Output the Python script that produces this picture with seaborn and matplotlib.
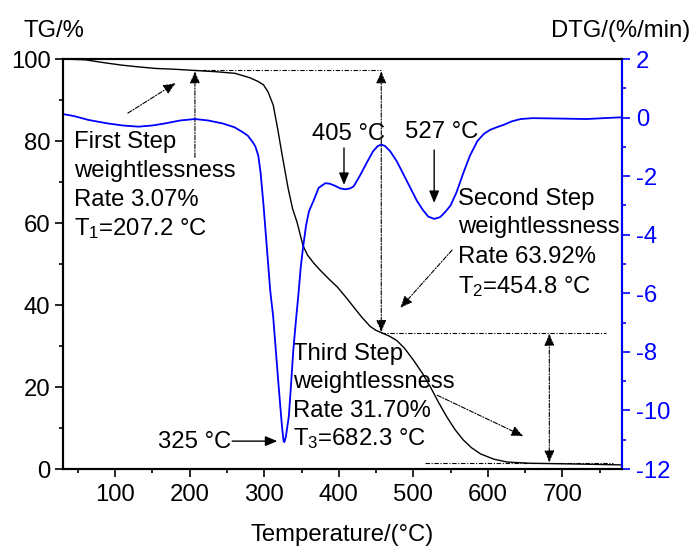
import matplotlib
matplotlib.use("Agg")
import matplotlib.pyplot as plt
import seaborn as sns
from matplotlib.ticker import MultipleLocator

# ---------------- data ----------------
tg_temp = [30, 60, 85, 109, 130, 154, 180, 207, 235, 261, 281, 292, 299, 305, 312,
           318, 324, 332, 338, 344, 352, 358, 366, 375, 387, 398, 410, 420, 431,
           442, 450, 458, 469, 478, 488, 500, 512, 523, 534, 545, 556, 567, 578,
           590, 608, 626, 657, 690, 724, 750, 780]
tg_val = [100.0, 99.8, 99.1, 98.5, 98.1, 97.7, 97.5, 97.2, 96.9, 96.5, 95.4, 94.5,
          93.7, 92.0, 88.8, 83.0, 76.6, 68.5, 63.5, 60.2, 54.5, 52.2, 50.3, 48.5,
          46.3, 44.4, 41.8, 39.5, 37.0, 34.8, 33.8, 33.2, 32.3, 31.3, 29.5, 26.6,
          23.4, 20.0, 16.2, 12.7, 9.6, 7.1, 5.2, 3.7, 2.4, 1.7, 1.4, 1.3, 1.2,
          1.1, 1.0]

dtg_temp = [30, 45, 64, 90, 110, 131, 150, 167, 187, 207, 225, 244, 260, 270, 278,
            284, 288, 292, 295, 299, 304, 308, 312, 316, 319, 322, 324, 326, 327,
            329, 333, 336, 339, 343, 346, 349, 352, 356, 360, 366, 373, 382, 388,
            395, 402, 409, 415, 420, 428, 438, 446, 452, 457, 462, 469, 478, 487,
            496, 505, 513, 520, 528, 536, 543, 550, 558, 567, 576, 586, 595, 603,
            612, 621, 632, 644, 660, 688, 710, 733, 755, 780]
dtg_val = [0.12, 0.05, -0.08, -0.2, -0.27, -0.31, -0.27, -0.2, -0.1, -0.05, -0.1,
           -0.2, -0.33, -0.48, -0.62, -0.82, -0.98, -1.3, -1.86, -2.98, -4.6, -5.9,
           -6.8, -8.1, -9.07, -10.0, -10.6, -11.05, -11.08, -10.9, -10.2, -9.1,
           -7.94, -6.8, -6.0, -5.1, -4.45, -3.7, -3.2, -2.85, -2.4, -2.24, -2.26,
           -2.33, -2.42, -2.45, -2.42, -2.35, -2.0, -1.52, -1.15, -0.98, -0.92,
           -0.97, -1.15, -1.5, -1.95, -2.4, -2.85, -3.16, -3.38, -3.46, -3.4,
           -3.22, -3.0, -2.55, -1.9, -1.3, -0.8, -0.55, -0.42, -0.33, -0.25,
           -0.13, -0.05, -0.02, -0.03, -0.04, -0.05, -0.02, 0.01]

x_ticks = [100, 200, 300, 400, 500, 600, 700]
tg_ticks = [0, 20, 40, 60, 80, 100]
dtg_ticks = [-12, -10, -8, -6, -4, -2, 0, 2]

step1_lines = ["First Step", "weightlessness", "Rate 3.07%", r"T$_1$=207.2 °C"]
step2_lines = ["Second Step", "weightlessness", "Rate 63.92%", r"T$_2$=454.8 °C"]
step3_lines = ["Third Step", "weightlessness", "Rate 31.70%", r"T$_3$=682.3 °C"]

# ---------------- style ----------------
sns.set_style("ticks")
plt.rcParams["font.family"] = ["Liberation Sans", "DejaVu Sans"]
plt.rcParams["mathtext.fontset"] = "custom"
plt.rcParams["mathtext.rm"] = "Liberation Sans"
plt.rcParams["mathtext.it"] = "Liberation Sans"
plt.rcParams["axes.unicode_minus"] = False
for k in ("text.color", "axes.labelcolor", "xtick.color", "ytick.color", "axes.edgecolor"):
    plt.rcParams[k] = "black"
FS = 17.2

fig = plt.figure(figsize=(6.93, 5.48), dpi=100)
ax = fig.add_axes([63 / 693, 1 - 469 / 548, (622 - 63) / 693, (469 - 59) / 548])
ax2 = ax.twinx()

sns.lineplot(x=tg_temp, y=tg_val, ax=ax, color="black", lw=1.0, sort=False)
sns.lineplot(x=dtg_temp, y=dtg_val, ax=ax2, color="#0000ff", lw=1.3, sort=False)

ax.set_xlim(30, 780)
ax.set_ylim(0, 100)
ax2.set_ylim(-12, 2)
ax.set_xticks(x_ticks)
ax.set_yticks(tg_ticks)
ax2.set_yticks(dtg_ticks)
ax.xaxis.set_minor_locator(MultipleLocator(50))
ax.yaxis.set_minor_locator(MultipleLocator(10))
ax2.yaxis.set_minor_locator(MultipleLocator(1))

for a in (ax, ax2):
    for s in a.spines.values():
        s.set_linewidth(1.5)
        s.set_visible(True)
        s.set_color("black")
ax2.spines["right"].set_color("#0000ff")
ax.tick_params(axis="both", which="major", direction="out", length=6, width=1.2,
               labelsize=FS, pad=3, colors="black")
ax.tick_params(axis="both", which="minor", direction="out", length=3, width=1.2,
               colors="black")
ax.tick_params(axis="x", pad=5)
ax2.tick_params(axis="y", which="major", direction="out", length=6, width=1.2,
                labelsize=FS, colors="#0000ff", pad=4)
ax2.tick_params(axis="y", which="minor", direction="out", length=3, width=1.2,
                colors="#0000ff")

ax.set_xlabel("Temperature/(°C)", fontsize=FS, labelpad=13)
ax.set_ylabel("")
ax2.set_ylabel("")
fig.text(23 / 693, 1 - 31 / 548, "TG/%", fontsize=FS, ha="left", va="center")
fig.text(690 / 693, 1 - 31 / 548, "DTG/(%/min)", fontsize=FS, ha="right", va="center")

# ---------------- annotations ----------------
dash = (0, (4, 1.5, 1, 1.5))
def darrow(xy, xytext, style="-|>"):
    ax.annotate("", xy=xy, xytext=xytext,
                arrowprops=dict(arrowstyle=style + ",head_length=0.6,head_width=0.25",
                                lw=0.8, ls=dash, color="black", shrinkA=0, shrinkB=0,
                                mutation_scale=12))

def sarrow(xy, xytext):
    ax.annotate("", xy=xy, xytext=xytext,
                arrowprops=dict(arrowstyle="-|>,head_length=0.6,head_width=0.25",
                                lw=1.0, color="black", shrinkA=0, shrinkB=0,
                                mutation_scale=12))

# dashed guide lines
ax.plot([205, 457], [97.2, 97.2], color="black", lw=0.8, ls=dash)
ax.plot([457, 758], [33.2, 33.2], color="black", lw=0.8, ls=dash)
ax.plot([516, 768], [1.4, 1.4], color="black", lw=0.8, ls=dash)

darrow((207, 97.0), (207, 76.0))
darrow((181, 94.1), (117, 86.8))
darrow((457, 97.0), (457, 33.4), style="<|-|>")
darrow((482.6, 39.3), (552, 53.4))
darrow((682.5, 33.0), (682.5, 1.6), style="<|-|>")
darrow((647.7, 8.0), (532, 18.0))

# peak arrows
sarrow((407, 69.3), (407, 78.3))
sarrow((528, 64.9), (528, 77.8))
sarrow((317.5, 6.8), (257, 6.8))

ax.text(412.8, 80.2, "405 °C", fontsize=FS, ha="center", va="baseline")
ax.text(537.6, 80.7, "527 °C", fontsize=FS, ha="center", va="baseline")
ax.text(256, 5.1, "325 °C", fontsize=FS, ha="right", va="baseline")

for lines, x0, ys in ((step1_lines, 45, [78.3, 71.2, 64.1, 57.1]),
                      (step2_lines, 560.4, [64.4, 57.6, 50.2, 42.9]),
                      (step3_lines, 339, [26.6, 19.8, 12.7, 5.9])):
    for txt, y in zip(lines, ys):
        ax.text(x0, y, txt, fontsize=FS, ha="left", va="baseline")

fig.savefig("out.png", dpi=100)
